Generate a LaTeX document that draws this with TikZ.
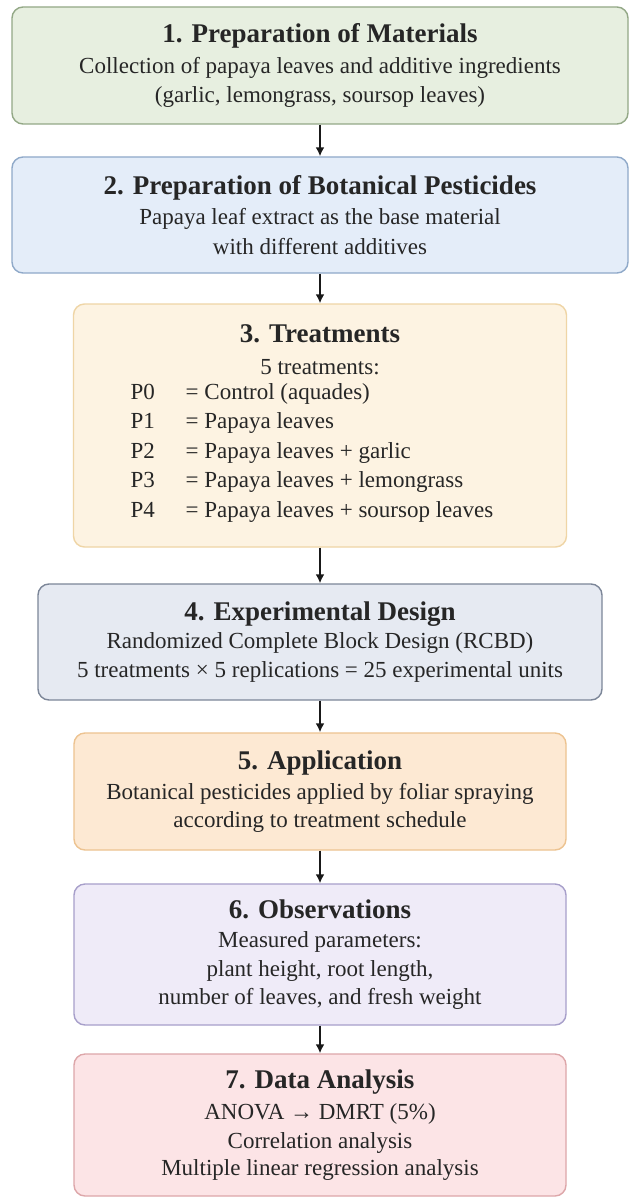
\documentclass[tikz,border=0pt]{standalone}
\usepackage{fontspec}
\setmainfont{Liberation Serif}
\usetikzlibrary{arrows.meta}
\definecolor{txt}{HTML}{262626}
\definecolor{f1}{HTML}{E7EFE0}\definecolor{d1}{HTML}{93A886}
\definecolor{f2}{HTML}{E4EDF9}\definecolor{d2}{HTML}{8FA9C9}
\definecolor{f3}{HTML}{FDF3E2}\definecolor{d3}{HTML}{EFD5A6}
\definecolor{f4}{HTML}{E6EAF2}\definecolor{d4}{HTML}{7C8698}
\definecolor{f5}{HTML}{FDE9D3}\definecolor{d5}{HTML}{EDC390}
\definecolor{f6}{HTML}{EFEBF8}\definecolor{d6}{HTML}{A79FCA}
\definecolor{f7}{HTML}{FCE4E6}\definecolor{d7}{HTML}{DDA6A9}
\newcommand\boxtitle[1]{{\fontsize{27}{31}\selectfont\bfseries #1}}
\begin{document}
\begin{tikzpicture}[x=1pt,y=-1pt,
  stagebox/.style={draw, line width=1.4pt, rounded corners=11pt, align=center,
    inner sep=0pt, text=txt, font=\fontsize{23}{29.5}\selectfont},
  flowarrow/.style={line width=1.9pt, -{Latex[length=9pt,width=9pt]}, draw=black!90}]
\useasboundingbox[fill=white] (0,0) rectangle (630,1198);

\node[stagebox, fill=f1, draw=d1, minimum width=616pt, minimum height=117pt] (b1) at (320,65.5)
  {\boxtitle{1. Preparation of Materials}\\[1pt]
   Collection of papaya leaves and additive ingredients\\
   (garlic, lemongrass, soursop leaves)};

\node[stagebox, fill=f2, draw=d2, minimum width=616pt, minimum height=116pt] (b2) at (320,215)
  {\boxtitle{2. Preparation of Botanical Pesticides}\\[1pt]
   Papaya leaf extract as the base material\\
   with different additives};

\node[stagebox, fill=f3, draw=d3, minimum width=493pt, minimum height=243pt] (b3) at (320,425.5)
  {\boxtitle{3. Treatments}\\[2pt]
   5 treatments:\\[3pt]
   \hspace*{-16pt}\begin{tabular}{@{}p{55pt}@{}l@{}}
   P0 & = Control (aquades)\\
   P1 & = Papaya leaves\\
   P2 & = Papaya leaves + garlic\\
   P3 & = Papaya leaves + lemongrass\\
   P4 & = Papaya leaves + soursop leaves
   \end{tabular}};

\node[stagebox, fill=f4, draw=d4, minimum width=564pt, minimum height=116pt] (b4) at (320,642)
  {\boxtitle{4. Experimental Design}\\[-1pt]
   Randomized Complete Block Design (RCBD)\\[-1pt]
   5 treatments × 5 replications = 25 experimental units};

\node[stagebox, fill=f5, draw=d5, minimum width=492pt, minimum height=117pt] (b5) at (320,791.5)
  {\boxtitle{5. Application}\\[1pt]
   Botanical pesticides applied by foliar spraying\\[-2pt]
   according to treatment schedule};

\node[stagebox, fill=f6, draw=d6, minimum width=492pt, minimum height=141pt] (b6) at (320,954.5)
  {\boxtitle{6. Observations}\\
   Measured parameters:\\[-1pt]
   plant height, root length,\\[-1pt]
   number of leaves, and fresh weight};

\node[stagebox, fill=f7, draw=d7, minimum width=492pt, minimum height=142pt] (b7) at (320,1125)
  {\boxtitle{7. Data Analysis}\\[1pt]
   ANOVA → DMRT (5\%)\\
   Correlation analysis\\[-3pt]
   Multiple linear regression analysis};

\draw[flowarrow] (b1.south) -- (b2.north);
\draw[flowarrow] (b2.south) -- (b3.north);
\draw[flowarrow] (b3.south) -- (b4.north);
\draw[flowarrow] (b4.south) -- (b5.north);
\draw[flowarrow] (b5.south) -- (b6.north);
\draw[flowarrow] (b6.south) -- (b7.north);
\end{tikzpicture}
\end{document}
